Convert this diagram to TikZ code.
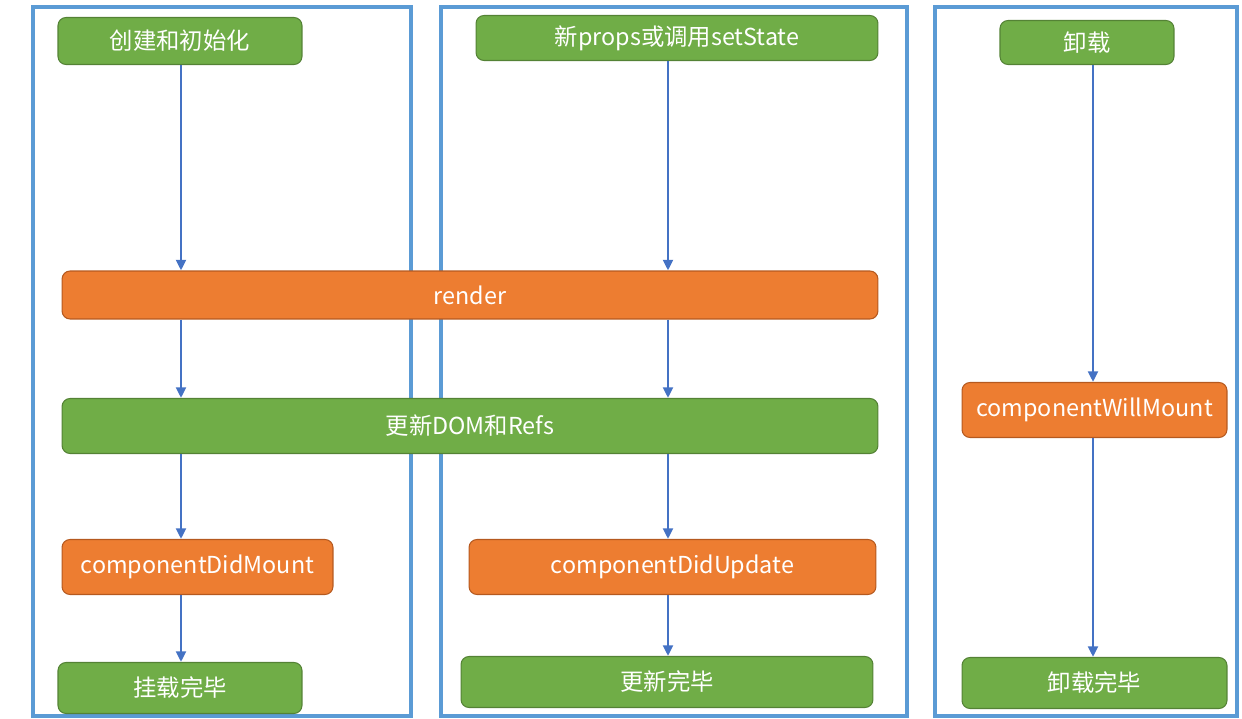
\documentclass[tikz,border=0pt]{standalone}
\usepackage{fontspec}
\setmainfont{Noto Sans CJK SC}
\usepackage{tikz}
\usetikzlibrary{arrows.meta,positioning}

\definecolor{StepGreen}{HTML}{70AD47}
\definecolor{StepGreenLine}{HTML}{548235}
\definecolor{StepOrange}{HTML}{ED7D31}
\definecolor{StepOrangeLine}{HTML}{B5591F}
\definecolor{FrameBlue}{HTML}{5B9BD5}
\definecolor{FlowBlue}{HTML}{4472C4}

\begin{document}
\begin{tikzpicture}[x=0.02cm, y=-0.02cm]
		\tikzstyle{Step}	= [rectangle, rounded corners=0.16cm, line width=0.6pt, text=white, inner sep=0pt, font=\fontsize{13.3}{16}\selectfont]
		\tikzstyle{GreenStep}	= [Step, fill=StepGreen, draw=StepGreenLine]
		\tikzstyle{OrangeStep}	= [Step, fill=StepOrange, draw=StepOrangeLine]
		\tikzstyle{Frame}	= [draw=FrameBlue, line width=2.2pt]
		\tikzstyle{Flow}	= [draw=FlowBlue, line width=1.5pt, -{Triangle[length=6pt, width=5.5pt]}]

		\useasboundingbox (0,0) rectangle (1242,719);

		% three phases
		\draw[Frame] (33,7) rectangle (411,716);
		\draw[Frame] (441,7) rectangle (907,716);
		\draw[Frame] (935,7) rectangle (1237,716);

		% columns of the arrows
		\coordinate (leftcol) at (181,0);
		\coordinate (midcol) at (668,0);
		\coordinate (rightcol) at (1093,0);

		\node (init) at (180,41) [GreenStep, minimum width=4.88cm, minimum height=0.94cm] {创建和初始化};
		\node (props) at (677,38) [GreenStep, minimum width=8.04cm, minimum height=0.90cm] {新props或调用setState};
		\node (unmount) at (1087,42.5) [GreenStep, minimum width=3.48cm, minimum height=0.88cm] {卸载};
		\node (render) at (470,295) [OrangeStep, minimum width=16.32cm, minimum height=0.96cm] {render};
		\node (dom) at (470,426) [GreenStep, minimum width=16.32cm, minimum height=1.10cm] {更新DOM和Refs};
		\node (willmount) at (1094.5,410) [OrangeStep, minimum width=5.30cm, minimum height=1.10cm] {componentWillMount};
		\node (didmount) at (197.5,567) [OrangeStep, minimum width=5.42cm, minimum height=1.10cm] {componentDidMount};
		\node (didupdate) at (672.5,567) [OrangeStep, minimum width=8.14cm, minimum height=1.10cm] {componentDidUpdate};
		\node (mounted) at (180,688) [GreenStep, minimum width=4.88cm, minimum height=1.02cm] {挂载完毕};
		\node (updated) at (667,682) [GreenStep, minimum width=8.24cm, minimum height=1.02cm] {更新完毕};
		\node (unmounted) at (1094.5,683) [GreenStep, minimum width=5.30cm, minimum height=1.02cm] {卸载完毕};

		\draw[Flow] (init.south -| leftcol) -- (render.north -| leftcol);
		\draw[Flow] (render.south -| leftcol) -- (dom.north -| leftcol);
		\draw[Flow] (dom.south -| leftcol) -- (didmount.north -| leftcol);
		\draw[Flow] (didmount.south -| leftcol) -- (mounted.north -| leftcol);

		\draw[Flow] (props.south -| midcol) -- (render.north -| midcol);
		\draw[Flow] (render.south -| midcol) -- (dom.north -| midcol);
		\draw[Flow] (dom.south -| midcol) -- (didupdate.north -| midcol);
		\draw[Flow] (didupdate.south -| midcol) -- (updated.north -| midcol);

		\draw[Flow] (unmount.south -| rightcol) -- (willmount.north -| rightcol);
		\draw[Flow] (willmount.south -| rightcol) -- (unmounted.north -| rightcol);
	\end{tikzpicture}
\end{document}
